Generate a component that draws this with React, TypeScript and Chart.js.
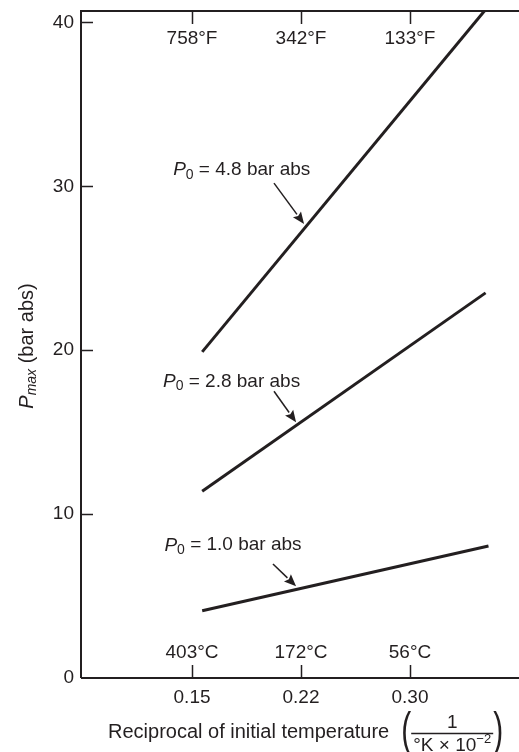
import { useEffect, useRef } from "react";
import { Chart, registerables } from "chart.js";

Chart.register(...registerables);

// ---- data ----
const xTickValues = [0.15, 0.225, 0.3];
const xTickLabels = ["0.15", "0.22", "0.30"];
const celsiusLabels = ["403°C", "172°C", "56°C"];
const fahrenheitLabels = ["758°F", "342°F", "133°F"];
const yTickValues = [10, 20, 30, 40];

const pressureLabels = ["4.8", "2.8", "1.0"];
const line48X = [0.157, 0.354];
const line48Y = [19.9, 41.0];
const line28X = [0.157, 0.352];
const line28Y = [11.4, 23.5];
const line10X = [0.157, 0.354];
const line10Y = [4.1, 8.05];

// annotation anchors (data units)
const labelX = [0.137, 0.13, 0.131];
const labelY = [31.0, 18.1, 8.1];
const arrowTailX = [0.2064, 0.2064, 0.2057];
const arrowTailY = [30.2, 17.5, 6.96];
const arrowTipX = [0.2271, 0.2216, 0.2216];
const arrowTipY = [27.7, 15.6, 5.6];

const X_MIN = 0.0736;
const X_MAX = 0.375;
const Y_MIN = 0;
const Y_MAX = 40.7;

const INK = "#231f20";
const FAMILY = '"Liberation Sans", Arial, Helvetica, sans-serif';

type Piece = { text: string; font: string; dy: number };

function richWidth(ctx: CanvasRenderingContext2D, pieces: Piece[]) {
  let w = 0;
  for (const p of pieces) {
    ctx.font = p.font;
    w += ctx.measureText(p.text).width;
  }
  return w;
}

function drawRich(ctx: CanvasRenderingContext2D, pieces: Piece[], x: number, y: number) {
  let cx = x;
  for (const p of pieces) {
    ctx.font = p.font;
    ctx.fillText(p.text, cx, y + p.dy);
    cx += ctx.measureText(p.text).width;
  }
  return cx;
}

function arrow(ctx: CanvasRenderingContext2D, x1: number, y1: number, x2: number, y2: number) {
  const ang = Math.atan2(y2 - y1, x2 - x1);
  const headLen = 12;
  const headW = 5;
  const bx = x2 - headLen * Math.cos(ang);
  const by = y2 - headLen * Math.sin(ang);
  ctx.beginPath();
  ctx.lineWidth = 1.5;
  ctx.moveTo(x1, y1);
  ctx.lineTo(bx, by);
  ctx.stroke();
  ctx.beginPath();
  ctx.moveTo(x2, y2);
  ctx.lineTo(bx + headW * Math.sin(ang), by - headW * Math.cos(ang));
  ctx.lineTo(bx + 2 * Math.cos(ang), by + 2 * Math.sin(ang));
  ctx.lineTo(bx - headW * Math.sin(ang), by + headW * Math.cos(ang));
  ctx.closePath();
  ctx.fill();
}

const decorPlugin = {
  id: "decor",
  afterDraw(chart: any) {
    const { ctx, chartArea } = chart;
    const { left, right, top, bottom } = chartArea;
    const xs = chart.scales.x;
    const ys = chart.scales.y;
    ctx.save();
    ctx.strokeStyle = INK;
    ctx.fillStyle = INK;

    // frame
    ctx.lineWidth = 2;
    ctx.beginPath();
    ctx.moveTo(left, bottom);
    ctx.lineTo(left, top);
    ctx.lineTo(right, top);
    ctx.moveTo(left, bottom);
    ctx.lineTo(right, bottom);
    ctx.stroke();

    // inward ticks
    ctx.lineWidth = 1.5;
    ctx.beginPath();
    xTickValues.forEach((v) => {
      const px = Math.round(xs.getPixelForValue(v)) + 0.5;
      ctx.moveTo(px, top);
      ctx.lineTo(px, top + 13);
      ctx.moveTo(px, bottom);
      ctx.lineTo(px, bottom - 13);
    });
    yTickValues.forEach((v) => {
      const py = Math.round(ys.getPixelForValue(v)) + 0.5;
      ctx.moveTo(left, py);
      ctx.lineTo(left + 12, py);
    });
    ctx.stroke();

    // inner temperature labels
    ctx.font = `19px ${FAMILY}`;
    ctx.textAlign = "center";
    ctx.textBaseline = "middle";
    xTickValues.forEach((v, i) => {
      const px = xs.getPixelForValue(v);
      ctx.fillText(fahrenheitLabels[i], px, top + 28);
      ctx.fillText(celsiusLabels[i], px, bottom - 25);
    });

    // annotations
    ctx.textAlign = "left";
    ctx.textBaseline = "middle";
    pressureLabels.forEach((lab, i) => {
      const px = xs.getPixelForValue(labelX[i]);
      const py = ys.getPixelForValue(labelY[i]);
      drawRich(
        ctx,
        [
          { text: "P", font: `italic 19px ${FAMILY}`, dy: 0 },
          { text: "0", font: `14px ${FAMILY}`, dy: 5 },
          { text: ` = ${lab} bar abs`, font: `19px ${FAMILY}`, dy: 0 },
        ],
        px,
        py
      );
      arrow(
        ctx,
        xs.getPixelForValue(arrowTailX[i]),
        ys.getPixelForValue(arrowTailY[i]),
        xs.getPixelForValue(arrowTipX[i]),
        ys.getPixelForValue(arrowTipY[i])
      );
    });

    // y title (rotated)
    const yPieces: Piece[] = [
      { text: "P", font: `italic 20px ${FAMILY}`, dy: 0 },
      { text: "max", font: `italic 14px ${FAMILY}`, dy: 5 },
      { text: " (bar abs)", font: `20px ${FAMILY}`, dy: 0 },
    ];
    const yw = richWidth(ctx, yPieces);
    ctx.save();
    ctx.translate(27, 346);
    ctx.rotate(-Math.PI / 2);
    ctx.textBaseline = "middle";
    drawRich(ctx, yPieces, -yw / 2, 0);
    ctx.restore();

    // x title
    const titleFont = `20px ${FAMILY}`;
    const titleText = "Reciprocal of initial temperature";
    ctx.font = titleFont;
    const tw = ctx.measureText(titleText).width;
    const parenFont = `46px ${FAMILY}`;
    const parenScale = 0.65;
    ctx.font = parenFont;
    const pw = ctx.measureText("(").width * parenScale;
    const fracW = 82;
    const gap = 12;
    const startX = left + 27;
    let cx = startX;
    ctx.textBaseline = "alphabetic";
    ctx.textAlign = "left";
    ctx.font = titleFont;
    ctx.fillText(titleText, cx, 738);
    cx += tw + gap;
    const drawParen = (ch: string, x: number) => {
      ctx.save();
      ctx.translate(x, 732);
      ctx.scale(parenScale, 1);
      ctx.font = parenFont;
      ctx.textBaseline = "middle";
      ctx.textAlign = "left";
      ctx.fillText(ch, 0, 0);
      ctx.restore();
    };
    drawParen("(", cx);
    cx += pw;
    // fraction
    ctx.lineWidth = 1.5;
    ctx.beginPath();
    ctx.moveTo(cx, 733.5);
    ctx.lineTo(cx + fracW, 733.5);
    ctx.stroke();
    ctx.textBaseline = "alphabetic";
    ctx.textAlign = "center";
    ctx.font = `19px ${FAMILY}`;
    ctx.fillText("1", cx + fracW / 2, 728);
    ctx.textAlign = "left";
    const denPieces: Piece[] = [
      { text: "°K × 10", font: `19px ${FAMILY}`, dy: 0 },
      { text: "−2", font: `13px ${FAMILY}`, dy: -8 },
    ];
    const dw = richWidth(ctx, denPieces);
    drawRich(ctx, denPieces, cx + fracW / 2 - dw / 2, 751);
    cx += fracW;
    drawParen(")", cx);

    ctx.restore();
  },
};

export default function App() {
  const ref = useRef<HTMLCanvasElement | null>(null);

  useEffect(() => {
    if (!ref.current) return;
    const mk = (xa: number[], ya: number[]) => xa.map((x, i) => ({ x, y: ya[i] }));
    const chart = new Chart(ref.current, {
      type: "scatter",
      data: {
        datasets: [
          { data: mk(line48X, line48Y) },
          { data: mk(line28X, line28Y) },
          { data: mk(line10X, line10Y) },
        ].map((d) => ({
          ...d,
          showLine: true,
          pointRadius: 0,
          borderWidth: 3,
          borderColor: INK,
          backgroundColor: INK,
          clip: 0,
        })) as any,
      },
      options: {
        animation: false,
        responsive: false,
        devicePixelRatio: 1,
        layout: { padding: { top: 11, right: 0, left: 0, bottom: 0 } },
        plugins: { legend: { display: false }, tooltip: { enabled: false } },
        scales: {
          x: {
            type: "linear",
            min: X_MIN,
            max: X_MAX,
            grid: { display: false, drawTicks: false },
            border: { display: false },
            afterBuildTicks: (s: any) => {
              s.ticks = xTickValues.map((v) => ({ value: v }));
            },
            afterFit: (s: any) => {
              s.height = 74;
              s.paddingLeft = 0;
              s.paddingRight = 0;
            },
            ticks: {
              color: INK,
              padding: 8,
              font: { family: FAMILY, size: 19 },
              maxRotation: 0,
              autoSkip: false,
              callback: (_v: any, i: number) => xTickLabels[i],
            },
          },
          y: {
            type: "linear",
            min: Y_MIN,
            max: Y_MAX,
            grid: { display: false, drawTicks: false },
            border: { display: false },
            afterBuildTicks: (s: any) => {
              s.ticks = [0, ...yTickValues].map((v) => ({ value: v }));
            },
            afterFit: (s: any) => {
              s.width = 81;
              s.paddingTop = 0;
              s.paddingBottom = 0;
            },
            ticks: {
              color: INK,
              padding: 7,
              font: { family: FAMILY, size: 19 },
              callback: (v: any) => String(v),
            },
          },
        },
      },
      plugins: [decorPlugin],
    });
    return () => chart.destroy();
  }, []);

  return (
    <div style={{ position: "fixed", left: 0, top: 0, width: 519, height: 752, background: "#fff" }}>
      <canvas ref={ref} width={519} height={752} style={{ width: 519, height: 752, display: "block" }} />
    </div>
  );
}
